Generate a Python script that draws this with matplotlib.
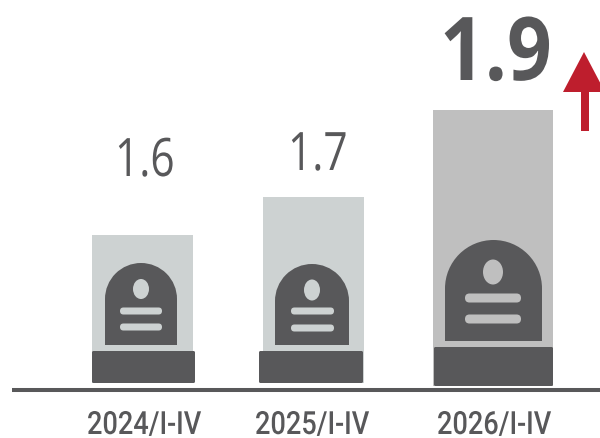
import matplotlib
matplotlib.use("Agg")
import matplotlib.pyplot as plt
from matplotlib.patches import Ellipse, FancyBboxPatch, Polygon, Rectangle
from matplotlib.patheffects import AbstractPathEffect
from matplotlib.transforms import Affine2D

categories = ["2024/I-IV", "2025/I-IV", "2026/I-IV"]
values = ["1.6", "1.7", "1.9"]
panel_heights = [155, 193, 280]  # bar heights as drawn in the picture (not proportional)

DARK = "#58585a"
PANEL = ["#cdd2d2", "#cdd2d2", "#bfbfbf"]
RED = "#be1e2d"

# layout, in pixels
panel_x = [(92, 193), (263, 364), (433, 553)]
base_box = [(92, 195, 351, 383), (259, 363, 351, 383), (434, 553, 347, 386)]
dome = [(105, 177, 263, 345), (275, 349, 264, 345), (445, 542, 240, 341)]
oval = [(141, 289, 8, 10), (312, 290, 8, 10.5), (493, 272, 10, 12.5)]
bars_in = [(120, 162, 311, 327, 7), (291, 334, 311, 328, 7), (465, 521, 298, 319, 9)]
label_pos = [(115, 176, 53, "400", 0.8), (288, 170, 53, "400", 0.8), (440, 80, 88, "700", 0.89)]
tick_x = [87, 255, 437]
BASE_Y = 390


class SqueezeX(AbstractPathEffect):
    """Narrows a text horizontally around its left anchor; the text stays text."""

    def __init__(self, sx):
        super().__init__()
        self.sx = sx

    def draw_path(self, renderer, gc, tpath, affine, rgbFace=None):
        tx = affine.get_matrix()[0, 2]
        squeezed = affine + Affine2D().translate(-tx, 0).scale(self.sx, 1).translate(tx, 0)
        renderer.draw_path(gc, tpath, squeezed, rgbFace)


fig = plt.figure(figsize=(6, 4.39), dpi=100)
ax = fig.add_axes([0, 0, 1, 1])
ax.set_xlim(0, 600)
ax.set_ylim(438, -1)
ax.axis("off")

for i in range(3):
    x0, x1 = panel_x[i]
    bx0, bx1, by0, by1 = base_box[i]
    ax.bar((x0 + x1) / 2, -panel_heights[i], width=x1 - x0, bottom=BASE_Y, color=PANEL[i], zorder=1)
    ax.add_patch(Rectangle((x0 - 1, by1), x1 - x0 + 2, BASE_Y - by1, color="white", zorder=1.5, lw=0))
    ax.add_patch(FancyBboxPatch((bx0 + 1, by0 + 1), bx1 - bx0 - 2, by1 - by0 - 2,
                                boxstyle="round,pad=1,rounding_size=1.5", fc=DARK, ec="none", zorder=2))

    dx0, dx1, dy0, dy1 = dome[i]
    r = (dx1 - dx0) / 2
    cx = (dx0 + dx1) / 2
    ax.add_patch(Ellipse((cx, dy0 + r), 2 * r, 2 * r, fc=DARK, ec="none", zorder=2))
    ax.add_patch(Rectangle((dx0, dy0 + r), 2 * r, dy1 - dy0 - r, fc=DARK, ec="none", zorder=2))

    ox, oy, rx, ry = oval[i]
    ax.add_patch(Ellipse((ox, oy), 2 * rx, 2 * ry, fc=PANEL[i], ec="none", zorder=3))

    lx0, lx1, ly0, ly1, t = bars_in[i]
    for ly in (ly0, ly1):
        ax.add_patch(FancyBboxPatch((lx0 + t / 2, ly - 0.01), lx1 - lx0 - t, 0.02,
                                    boxstyle=f"round,pad={t/2},rounding_size={t/2}",
                                    fc=PANEL[i], ec="none", zorder=3))

    lx, ly, size, weight, sx = label_pos[i]
    ax.text(lx, ly, values[i], ha="left", va="baseline", color=DARK,
            fontsize=size * 0.72, family="Open Sans", weight=weight,
            path_effects=[SqueezeX(sx)])
    ax.text(tick_x[i], 434, categories[i], ha="left", va="baseline", color=DARK,
            fontsize=23, family="Roboto", weight=500, path_effects=[SqueezeX(0.85)])

ax.plot([12, 600], [BASE_Y, BASE_Y], color=DARK, lw=2.9, solid_capstyle="butt", zorder=4)

ax.add_patch(Polygon([(584, 52), (563, 92), (605, 92)], closed=True, fc=RED, ec="none"))
ax.add_patch(Rectangle((581, 92), 7.5, 39, fc=RED, ec="none"))

fig.savefig("out.png", dpi=100)
